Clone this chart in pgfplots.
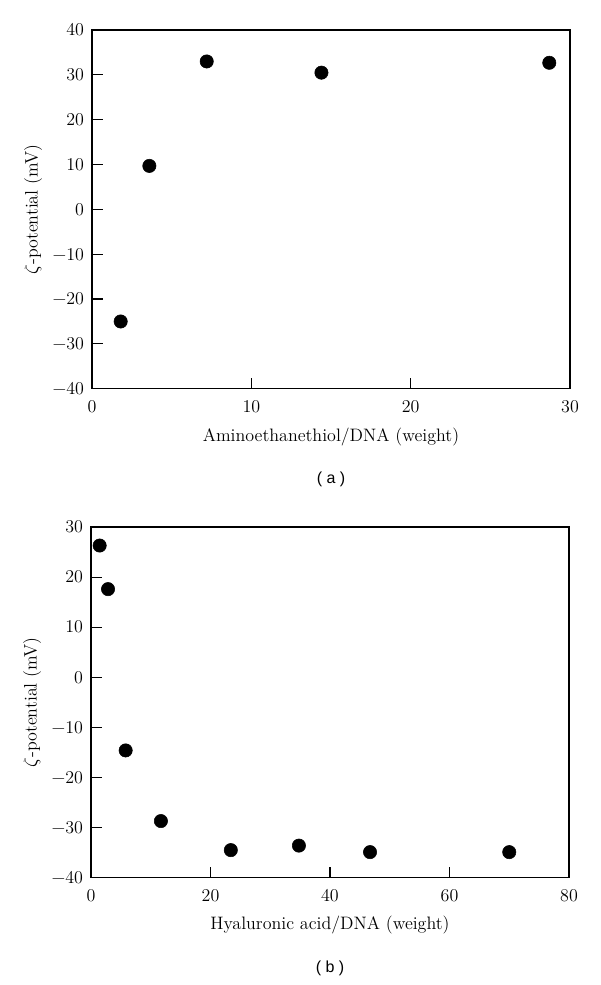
\documentclass[border=0pt]{standalone}
\usepackage{fontspec}
\usepackage{pgfplots}
\pgfplotsset{compat=1.18}
\newfontfamily\labsans{Liberation Sans}

\pgfplotstableread{
x y
1.8 -25
3.6 9.7
7.2 33
14.4 30.5
28.7 32.7
}\dataA

\pgfplotstableread{
x y
1.45 26.3
2.85 17.6
5.8 -14.6
11.7 -28.7
23.4 -34.5
34.8 -33.6
46.7 -34.9
70 -34.9
}\dataB

\pgfplotsset{
  zstyle/.style={
    scale only axis,
    anchor=south west,
    clip=false,
    axis line style={line width=0.9pt},
    tick style={line width=0.9pt, black},
    major tick length=8pt,
    tick align=inside,
    tick pos=left,
    /pgf/number format/assume math mode=true,
    ticklabel style={font=\fontsize{13.5}{15}\selectfont},
    xticklabel style={yshift=-5.5pt},
    yticklabel style={xshift=-2.5pt},
    every axis y label/.style={at={(axis description cs:-0.123,0.5)}, rotate=90, anchor=center, font=\fontsize{13.5}{15}\selectfont},
    every axis x label/.style={at={(axis description cs:0.5,-0.135)}, anchor=center, font=\fontsize{13.5}{15}\selectfont},
    ylabel={$\zeta$-potential (mV)},
  }
}

\begin{document}
\begin{tikzpicture}
\useasboundingbox (0pt,0pt) rectangle (450pt,738.75pt);
\begin{axis}[zstyle,
  at={(69pt,447.2pt)},
  width=358.5pt, height=269pt,
  xmin=0, xmax=30, ymin=-40, ymax=40,
  xtick={0,10,20,30}, ytick={-40,-30,...,40},
  xticklabels={0,10,20,30},
  yticklabels={−40,−30,−20,−10,0,10,20,30,40},
  xlabel={Aminoethanethiol/DNA (weight)},
]
\addplot[only marks, mark=*, mark size=5pt, black] table[x=x,y=y] {\dataA};
\node[font=\labsans\fontsize{12}{14}\selectfont] at (rel axis cs:0.5,-0.252) {( a )};
\end{axis}
\begin{axis}[zstyle,
  at={(68.25pt,80.5pt)},
  width=358.5pt, height=263pt,
  xmin=0, xmax=80, ymin=-40, ymax=30,
  xtick={0,20,40,60,80}, ytick={-40,-30,...,30},
  xticklabels={0,20,40,60,80},
  yticklabels={−40,−30,−20,−10,0,10,20,30},
  xlabel={Hyaluronic acid/DNA (weight)},
]
\addplot[only marks, mark=*, mark size=5pt, black] table[x=x,y=y] {\dataB};
\node[font=\labsans\fontsize{12}{14}\selectfont] at (rel axis cs:0.5,-0.2575) {( b )};
\end{axis}
\end{tikzpicture}
\end{document}
